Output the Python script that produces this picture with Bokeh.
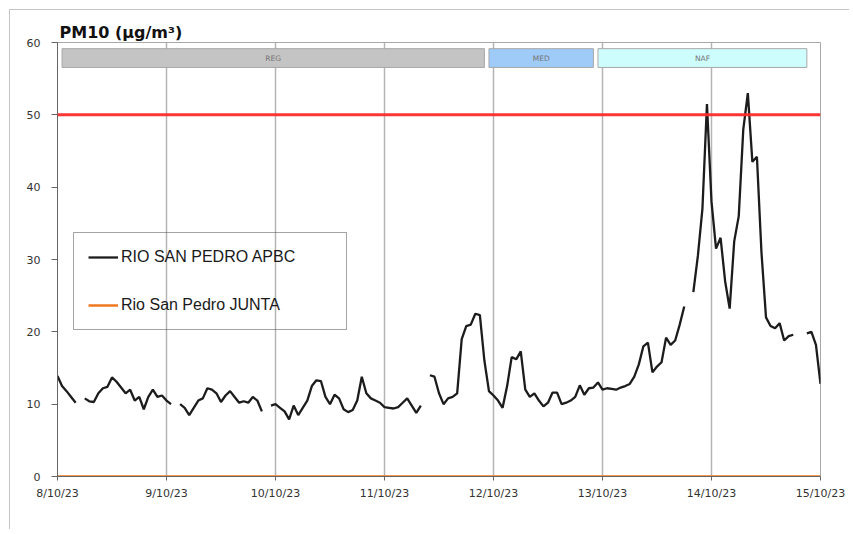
from bokeh.plotting import figure
from bokeh.models import FixedTicker, Span, Legend, LegendItem
from bokeh.core.properties import value
from bokeh.embed import file_html
from bokeh.resources import INLINE

nan = float("nan")

# hourly index, 8/10/23 00:00 -> 15/10/23 00:00
hours = list(range(169))

# RIO SAN PEDRO APBC, PM10 hourly (µg/m³); nan = gap
apbc = [
    13.9, 12.5, 11.8, 11.0, 10.2, nan, 10.8, 10.4, 10.3, 11.5, 12.2, 12.4,
    13.7, 13.1, 12.3, 11.5, 12.0, 10.5, 11.0, 9.3, 11.0, 12.0, 11.0, 11.2,
    10.5, 10.0, nan, 10.0, 9.5, 8.5, 9.5, 10.5, 10.8, 12.2, 12.0, 11.5,
    10.3, 11.2, 11.8, 11.0, 10.2, 10.4, 10.2, 11.0, 10.5, 9.0, nan, 9.8,
    10.0, 9.5, 9.0, 7.9, 9.8, 8.5, 9.5, 10.5, 12.5, 13.3, 13.2, 11.0,
    10.0, 11.3, 10.8, 9.3, 8.9, 9.2, 10.5, 13.8, 11.5, 10.8, 10.5, 10.2,
    9.6, 9.5, 9.4, 9.6, 10.2, 10.8, 9.8, 8.8, 9.8, nan, 14.0, 13.8,
    11.5, 10.0, 10.8, 11.0, 11.5, 19.0, 20.8, 21.0, 22.5, 22.3, 16.0, 11.8,
    11.2, 10.5, 9.5, 12.5, 16.5, 16.2, 17.3, 12.0, 11.0, 11.5, 10.5, 9.7,
    10.2, 11.6, 11.6, 10.0, 10.2, 10.5, 11.0, 12.6, 11.3, 12.2, 12.3, 13.0,
    12.0, 12.2, 12.1, 12.0, 12.3, 12.5, 12.8, 13.8, 15.5, 18.0, 18.5, 14.4,
    15.2, 15.8, 19.2, 18.2, 18.8, 21.0, 23.5, nan, 25.5, 30.5, 37.0, 51.5,
    38.0, 31.5, 33.0, 27.0, 23.2, 32.5, 36.0, 48.0, 53.0, 43.5, 44.2, 31.0,
    22.0, 20.8, 20.5, 21.2, 18.8, 19.4, 19.6, nan, nan, 19.8, 20.0, 18.2,
    12.8,
]

# Rio San Pedro JUNTA (µg/m³), flat at zero in the picture
junta = [
    0, 0, 0, 0, 0, 0, 0, 0, 0, 0, 0, 0, 0, 0, 0, 0, 0, 0, 0, 0, 0, 0, 0, 0,
    0, 0, 0, 0, 0, 0, 0, 0, 0, 0, 0, 0, 0, 0, 0, 0, 0, 0, 0, 0, 0, 0, 0, 0,
    0, 0, 0, 0, 0, 0, 0, 0, 0, 0, 0, 0, 0, 0, 0, 0, 0, 0, 0, 0, 0, 0, 0, 0,
    0, 0, 0, 0, 0, 0, 0, 0, 0, 0, 0, 0, 0, 0, 0, 0, 0, 0, 0, 0, 0, 0, 0, 0,
    0, 0, 0, 0, 0, 0, 0, 0, 0, 0, 0, 0, 0, 0, 0, 0, 0, 0, 0, 0, 0, 0, 0, 0,
    0, 0, 0, 0, 0, 0, 0, 0, 0, 0, 0, 0, 0, 0, 0, 0, 0, 0, 0, 0, 0, 0, 0, 0,
    0, 0, 0, 0, 0, 0, 0, 0, 0, 0, 0, 0, 0, 0, 0, 0, 0, 0, 0, 0, 0, 0, 0, 0,
    0,
]

limit_value = 50

day_ticks = [0, 24, 48, 72, 96, 120, 144, 168]
day_labels = ["8/10/23", "9/10/23", "10/10/23", "11/10/23",
              "12/10/23", "13/10/23", "14/10/23", "15/10/23"]
y_ticks = [0, 10, 20, 30, 40, 50, 60]

# air-mass episode bands (hour index)
band_names = ["REG", "MED", "NAF"]
band_start = [1, 95, 119]
band_end = [94, 118, 165]
band_colors = ["#c4c4c4", "#9fcbf9", "#cdfdfd"]

BAND_BOTTOM = 56.55
BAND_TOP = 59.15

p = figure(width=840, height=520, x_range=(0, 168), y_range=(0, 60),
           output_backend="svg", toolbar_location=None,
           min_border_left=47, min_border_right=30,
           min_border_top=32, min_border_bottom=54,
           background_fill_color="white", border_fill_color="white")

p.styles = {"margin-left": "9px", "margin-top": "9px",
            "border-left": "1px solid #c4c4c4", "border-top": "1px solid #c4c4c4"}

p.title.text = "PM10 (µg/m³)"
p.title.text_font = "DejaVu Sans"
p.title.text_font_style = "bold"
p.title.text_font_size = "16px"
p.title.text_color = "#111111"
p.title.offset = 2
p.title.standoff = 1

p.outline_line_color = "#a8a8a8"
p.outline_line_width = 1

# axes
p.xaxis.ticker = FixedTicker(ticks=day_ticks)
p.xaxis.major_label_overrides = {t: l for t, l in zip(day_ticks, day_labels)}
p.yaxis.ticker = FixedTicker(ticks=y_ticks)
for ax in (p.xaxis, p.yaxis):
    ax.major_label_text_font = "DejaVu Sans"
    ax.major_label_text_font_size = "11px"
    ax.major_label_text_color = "#333333"
    ax.axis_line_color = "#666666"
    ax.axis_line_width = 1
    ax.major_tick_line_color = "#666666"
    ax.major_tick_in = 0
    ax.minor_tick_line_color = None
p.xaxis.major_tick_out = 4
p.xaxis.major_label_standoff = 6
p.yaxis.major_tick_out = 6
p.yaxis.major_label_standoff = 11

p.xgrid.ticker = FixedTicker(ticks=day_ticks)
p.xgrid.grid_line_color = "#b4b4b4"
p.xgrid.grid_line_width = 1.5
p.ygrid.visible = False

# episode bands
p.quad(left=band_start, right=band_end, bottom=BAND_BOTTOM, top=BAND_TOP,
       fill_color=band_colors, line_color="#a9a9a9", line_width=1)
band_mid = [(a + b) / 2 for a, b in zip(band_start, band_end)]
p.text(x=band_mid, y=[(BAND_BOTTOM + BAND_TOP) / 2] * len(band_mid), text=band_names,
       text_font=value("DejaVu Sans"), text_font_size="7.5px", text_color="#757575",
       text_align="center", text_baseline="middle")

# limit line
p.add_layout(Span(location=limit_value, dimension="width",
                  line_color="#ff2a2a", line_width=3, line_alpha=0.95))

r_junta = p.line(hours, junta, line_color="#f07820", line_width=2.5)
r_apbc = p.line(hours, apbc, line_color="#1c1c1c", line_width=2.3)

legend = Legend(items=[LegendItem(label="RIO SAN PEDRO APBC", renderers=[r_apbc]),
                       LegendItem(label="Rio San Pedro JUNTA", renderers=[r_junta])],
                location=(16, 146))
legend.padding = 14
legend.spacing = 28
legend.glyph_width = 30
legend.glyph_height = 20
legend.label_height = 20
legend.label_width = 211
legend.label_standoff = 3
legend.label_text_font = "Liberation Sans"
legend.label_text_font_size = "16px"
legend.label_text_color = "#1a1a1a"
legend.border_line_color = "#4a4a4a"
legend.border_line_width = 1.5
legend.background_fill_alpha = 0
p.add_layout(legend)

open("out.html", "w").write(file_html(p, INLINE))
